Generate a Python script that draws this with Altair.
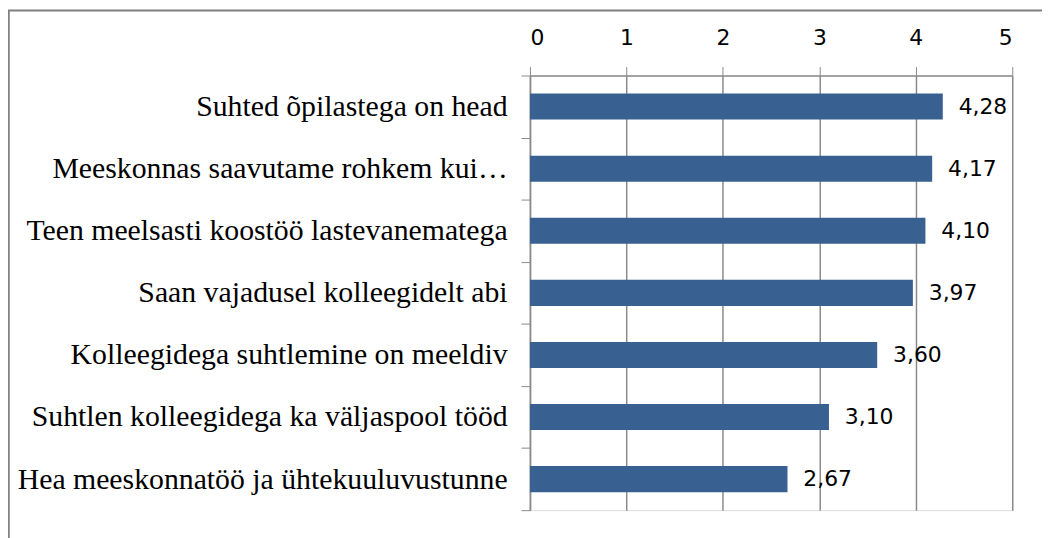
import altair as alt
import pandas as pd

categories = [
    "Suhted õpilastega on head",
    "Meeskonnas saavutame rohkem kui…",
    "Teen meelsasti koostöö lastevanematega",
    "Saan vajadusel kolleegidelt abi",
    "Kolleegidega suhtlemine on meeldiv",
    "Suhtlen kolleegidega ka väljaspool tööd",
    "Hea meeskonnatöö ja ühtekuuluvustunne",
]
values = [4.28, 4.17, 4.10, 3.97, 3.60, 3.10, 2.67]
x_ticks = [0, 1, 2, 3, 4, 5]

df = pd.DataFrame({
    "cat": categories,
    "val": values,
    "lbl": [f"{v:.2f}".replace(".", ",") for v in values],
})

GRID = "#8a8a8a"
BAR = "#386192"

y_enc = alt.Y(
    "cat:N",
    sort=categories,
    title=None,
    scale=alt.Scale(paddingInner=0, paddingOuter=0),
    axis=alt.Axis(
        orient="left",
        tickBand="extent",
        tickSize=9,
        tickColor=GRID,
        domainColor=GRID,
        domainWidth=1.5,
        labelFont="Liberation Serif",
        labelFontSize=30,
        labelColor="#000000",
        labelPadding=14,
        labelLimit=600,
        grid=False,
    ),
)

x_enc = alt.X(
    "val:Q",
    title=None,
    scale=alt.Scale(domain=[0, 5], nice=False),
    axis=alt.Axis(
        orient="top",
        values=x_ticks,
        format="d",
        tickSize=9,
        tickColor=GRID,
        domainColor=GRID,
        domainWidth=1.5,
        gridColor=GRID,
        gridWidth=1.5,
        grid=True,
        labelFont="DejaVu Sans",
        labelFontSize=22,
        labelColor="#000000",
        labelPadding=17,
    ),
)

bars = alt.Chart(df).mark_bar(color=BAR, height=alt.RelativeBandSize(0.42)).encode(
    x=x_enc, y=y_enc
)

labels = alt.Chart(df).mark_text(
    align="left", baseline="middle", dx=16, font="DejaVu Sans", fontSize=22, color="#000000"
).encode(x=alt.X("val:Q"), y=alt.Y("cat:N", sort=categories), text="lbl:N")

frame_data = alt.Data(values=[{"k": 1}])
frame_left = alt.Chart(frame_data).mark_rule(color="#808080", strokeWidth=2.5).encode(
    x=alt.value(-525.5), y=alt.value(-66), y2=alt.value(540)
)
frame_top = alt.Chart(frame_data).mark_rule(color="#808080", strokeWidth=2).encode(
    x=alt.value(-526), x2=alt.value(600), y=alt.value(-65.5)
)

chart = alt.layer(bars, labels, frame_left, frame_top).properties(
    width=486,
    height=438,
    padding={"left": 526, "top": 66, "right": 30, "bottom": 26},
    autosize=alt.AutoSizeParams(type="none"),
).configure_view(stroke=None).configure(background="#ffffff")

chart.save("out.html", embed_options={"renderer": "svg", "actions": False})
